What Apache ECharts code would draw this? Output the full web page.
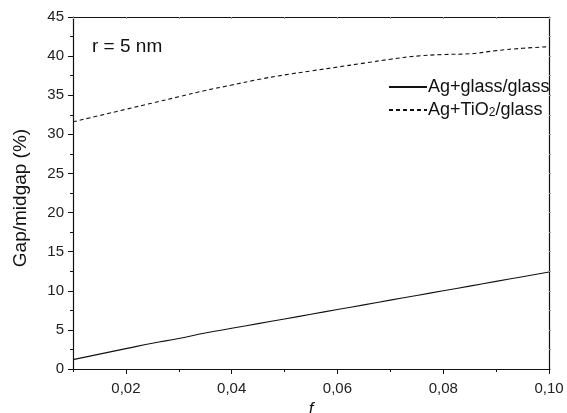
<!DOCTYPE html>
<html>
<head>
<meta charset="utf-8">
<script src="https://cdn.jsdelivr.net/npm/echarts@6/dist/echarts.min.js"></script>
<style>html,body{margin:0;padding:0;background:#fff}#c{width:567px;height:413px}</style>
</head>
<body>
<div id="c"></div>
<script>
const fValues = [0.01,0.015,0.02,0.025,0.03,0.035,0.04,0.045,0.05,0.055,0.06,0.065,0.07,0.075,0.08,0.085,0.09,0.095,0.10];
const glassValues = [1.2,1.9,2.6,3.3,3.9,4.6,5.2,5.8,6.4,7.0,7.6,8.2,8.8,9.4,10.0,10.6,11.2,11.8,12.4];
const tio2Values = [31.6,32.4,33.2,34.0,34.8,35.6,36.3,37.0,37.6,38.1,38.6,39.1,39.6,40.0,40.2,40.3,40.7,41.0,41.2];
const xMajorTicks = [0.02,0.04,0.06,0.08,0.10];
const xMinorTicks = [0.01,0.03,0.05,0.07,0.09];
const seriesNames = ['Ag+glass/glass','Ag+TiO2/glass'];
const yAxisTitle = 'Gap/midgap (%)';
const xAxisTitle = 'f';
const annotation = 'r = 5 nm';

const FONT = 'Liberation Sans, Arial, sans-serif';
const chart = echarts.init(document.getElementById('c'), null, {renderer:'canvas'});
const pairs = (ys) => fValues.map((f,i)=>[f, ys[i]]);
const allTicks = xMinorTicks.concat(xMajorTicks).sort((a,b)=>a-b);

chart.setOption({
  animation:false,
  backgroundColor:'#fff',
  textStyle:{fontFamily:FONT},
  title:{text:annotation,left:87,top:32,textStyle:{fontFamily:FONT,fontSize:19,fontWeight:'normal',color:'#111'}},
  grid:{left:73,right:18,top:17,bottom:44,containLabel:false,outerBoundsMode:'none'},
  legend:{
    orient:'vertical',left:383,top:73,itemWidth:38,itemHeight:12,itemGap:5,
    data:seriesNames,
    itemStyle:{opacity:0},
    formatter:(n)=> n==='Ag+TiO2/glass' ? '{n|Ag+TiO}{s|2}{n|/glass}' : '{n|'+n+'}',
    textStyle:{fontFamily:FONT,fontSize:18,color:'#111',padding:[0,0,0,-4],
      rich:{n:{fontFamily:FONT,fontSize:18,color:'#111'},s:{fontFamily:FONT,fontSize:12,color:'#111',verticalAlign:'bottom',padding:[6,0,0,0]}}}
  },
  xAxis:[
    {type:'value',min:0.01,max:0.10,position:'bottom',
     name:xAxisTitle,nameLocation:'middle',nameGap:31,
     nameTextStyle:{fontFamily:FONT,fontSize:17,fontStyle:'italic',color:'#111'},
     axisLine:{show:true,lineStyle:{color:'#111',width:1.2}},
     axisTick:{show:true,inside:false,length:5,customValues:xMajorTicks,lineStyle:{color:'#111'}},
     axisLabel:{show:true,customValues:xMajorTicks,margin:12,fontFamily:FONT,fontSize:15,color:'#222',
       formatter:(v)=>v.toFixed(2).replace('.',',')},
     splitLine:{show:false}},
    {type:'value',min:0.01,max:0.10,position:'bottom',
     axisLine:{show:false},
     axisTick:{show:true,inside:false,length:3,customValues:xMinorTicks,lineStyle:{color:'#111'}},
     axisLabel:{show:false},splitLine:{show:false}},
    {type:'value',min:0.01,max:0.10,position:'top',
     axisLine:{show:true,lineStyle:{color:'#111',width:1.2}},
     axisTick:{show:true,inside:true,length:2,customValues:allTicks,lineStyle:{color:'#999'}},
     axisLabel:{show:false},splitLine:{show:false}}
  ],
  yAxis:[
    {type:'value',min:0,max:45,interval:5,position:'left',
     name:yAxisTitle,nameLocation:'middle',nameGap:43,nameRotate:90,
     nameTextStyle:{fontFamily:FONT,fontSize:19,color:'#111',padding:[0,0,0,-10]},
     axisLine:{show:true,lineStyle:{color:'#111',width:1.2}},
     axisTick:{show:true,inside:false,length:5,lineStyle:{color:'#111'}},
     minorTick:{show:true,splitNumber:2,length:3,lineStyle:{color:'#111'}},
     axisLabel:{margin:9,fontFamily:FONT,fontSize:15,color:'#222'},
     splitLine:{show:false},minorSplitLine:{show:false}},
    {type:'value',min:0,max:45,interval:2.5,position:'right',
     axisLine:{show:true,lineStyle:{color:'#111',width:1.2}},
     axisTick:{show:true,inside:false,length:2,lineStyle:{color:'#999'}},
     axisLabel:{show:false},splitLine:{show:false}}
  ],
  series:[
    {name:seriesNames[0],type:'line',xAxisIndex:0,yAxisIndex:0,data:pairs(glassValues),
     showSymbol:false,symbol:'none',smooth:true,lineStyle:{color:'#111',width:1.1,type:'solid'},itemStyle:{color:'#111'}},
    {name:seriesNames[1],type:'line',xAxisIndex:0,yAxisIndex:0,data:pairs(tio2Values),
     showSymbol:false,symbol:'none',smooth:true,lineStyle:{color:'#111',width:1.1,type:[4,3]},itemStyle:{color:'#111'}}
  ]
});
</script>
</body>
</html>
